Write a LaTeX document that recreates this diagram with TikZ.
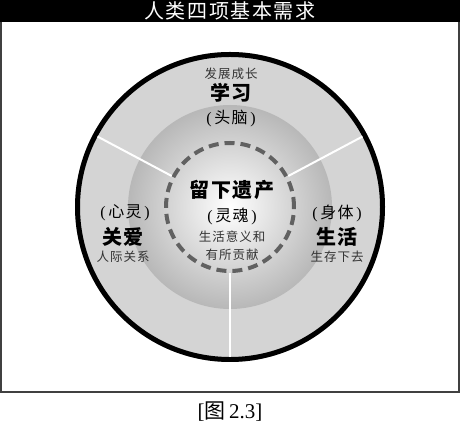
\documentclass[tikz,border=0pt]{standalone}
\usepackage{fontspec}
\setmainfont{Liberation Serif}
\newfontfamily\cjk[LetterSpace=8]{Noto Sans CJK SC}
\definecolor{ringgray}{rgb}{0.83,0.83,0.83}
\definecolor{dashgray}{rgb}{0.38,0.38,0.38}
\newcommand{\paren}[1]{\textrm{(}\,#1\,\textrm{)}}
\tikzset{
  bigtxt/.style={font=\cjk\bfseries\fontsize{20}{22}\selectfont},
  midtxt/.style={font=\cjk\fontsize{16}{18}\selectfont},
  smalltxt/.style={font=\cjk\fontsize{12.5}{14}\selectfont,black!80}
}

\begin{document}
\begin{tikzpicture}[x=1pt,y=1pt]
\useasboundingbox (0,0) rectangle (460,433);
\fill[black] (0,411) rectangle (460,433);
\node[white,font=\cjk\fontsize{20}{22}\selectfont] (title) at (230,422) {人类四项基本需求};
\draw[line width=1.5pt,black!75] (1,411) -- (1,41) -- (459,41) -- (459,411);
\node[font=\fontsize{21}{23}\selectfont] (caption) at (230,21) {[{\cjk 图}\,2.3]};

\coordinate (o) at (230,226);
\fill[ringgray] (o) circle (155);
\shade[inner color=white,outer color=black!28] (o) circle (102);
\draw[line width=5pt] (o) circle (152.5);
\draw[dashgray,line width=4pt,dash pattern=on 10pt off 6pt] (o) circle (64);
\foreach \a in {28,152,270} {
  \draw[white,line width=2pt] ([shift={(\a:66)}]o) -- ([shift={(\a:150)}]o);
}

\node[smalltxt] (growth) at (231,359) {发展成长};
\node[bigtxt] (study) at (231,340) {学习};
\node[midtxt] (head) at (231,315) {\paren{头脑}};

\node[bigtxt] (legacy) at (232,243) {留下遗产};
\node[midtxt] (soul) at (232,217) {\paren{灵魂}};
\node[smalltxt] (meaning) at (232,196) {生活意义和};
\node[smalltxt] (contrib) at (232,178) {有所贡献};

\node[midtxt] (heart) at (125,220) {\paren{心灵}};
\node[bigtxt] (love) at (123,196) {关爱};
\node[smalltxt] (relation) at (123,176) {人际关系};

\node[midtxt] (body) at (337,220) {\paren{身体}};
\node[bigtxt] (live) at (337,196) {生活};
\node[smalltxt] (survive) at (337,176) {生存下去};
\end{tikzpicture}
\end{document}
